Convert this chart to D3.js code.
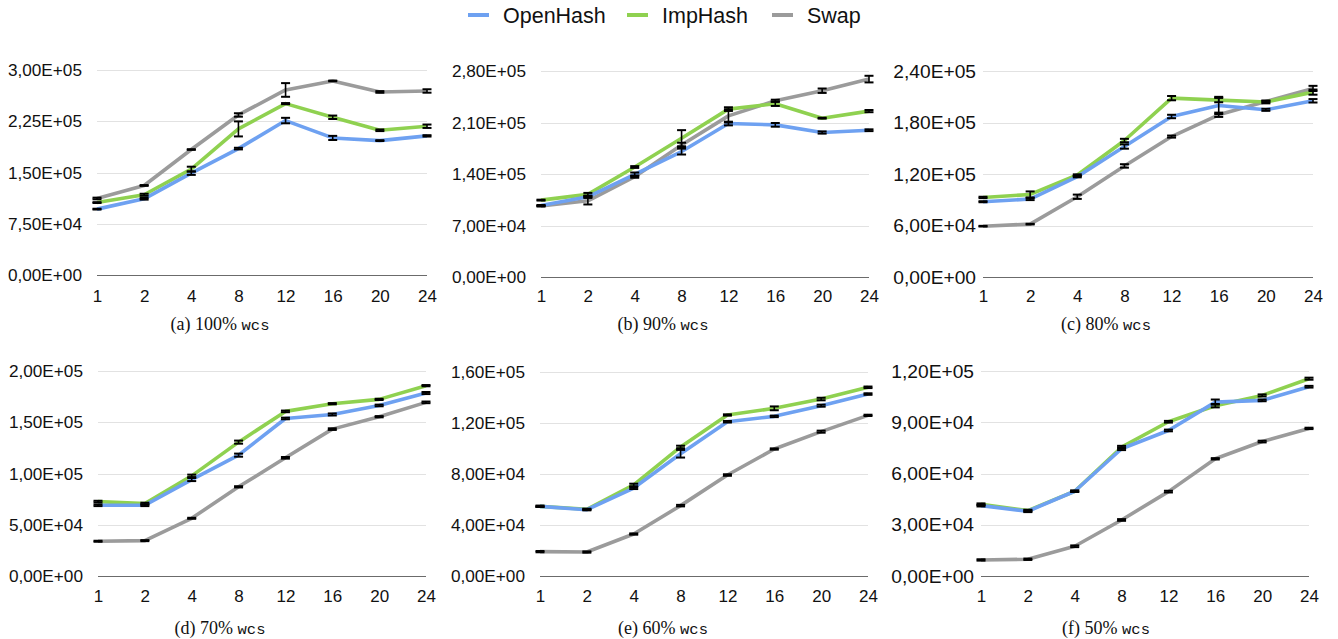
<!DOCTYPE html>
<html><head><meta charset="utf-8">
<script src="https://cdn.jsdelivr.net/npm/d3@7"></script>
<style>body{margin:0;background:#fff}svg{display:block}</style>
</head><body>
<script>
// ---------- DATA ----------
const threads = ["1","2","4","8","12","16","20","24"];
const seriesNames = ["OpenHash","ImpHash","Swap"];
const captions = ["(a) 100%","(b) 90%","(c) 80%","(d) 70%","(e) 60%","(f) 50%"];
const captionSuffix = "wcs";

const yTicksA = [0,75000,150000,225000,300000];
const yTicksB = [0,70000,140000,210000,280000];
const yTicksC = [0,60000,120000,180000,240000];
const yTicksD = [0,50000,100000,150000,200000];
const yTicksE = [0,40000,80000,120000,160000];
const yTicksF = [0,30000,60000,90000,120000];

// panel (a) 100% wcs
const openA = [96400,111500,149000,185000,226000,200600,196700,203600];
const impA  = [106000,117400,155000,213800,250800,230800,211800,217700];
const swapA = [112000,131000,183600,234200,270800,284000,267900,269300];
const openAErr = [600,1200,2500,1200,4000,3000,600,1000];
const impAErr  = [600,1500,3500,11000,800,2500,1200,2500];
const swapAErr = [1200,600,500,2500,10000,500,1200,2500];
// panel (b) 90% wcs
const openB = [97300,109000,139500,170500,208600,206800,196400,199500];
const impB  = [104500,112300,149500,188600,228200,235500,215900,225500];
const swapB = [96400,103600,136400,179500,219000,239500,253200,269000];
const openBErr = [600,1500,2500,4000,2500,2500,1500,1200];
const impBErr  = [600,2000,1200,11000,2500,3000,600,1500];
const swapBErr = [600,5000,1500,3000,9000,1500,3000,4500];
// panel (c) 80% wcs
const openC = [87700,90800,116900,152000,187000,199900,194800,205300];
const impC  = [92700,96200,118800,159000,208400,206100,203800,215400];
const swapC = [59200,61600,93500,129400,163600,189000,204500,219700];
const openCErr = [600,1200,800,2500,2000,10000,1200,2000];
const impCErr  = [800,3500,800,2000,2500,2500,1500,3000];
const swapCErr = [400,400,2500,2000,1200,2500,1000,3000];
// panel (d) 70% wcs
const openD = [69000,69000,94100,117900,153700,157600,166400,178500];
const impD  = [72600,70700,97700,130600,160600,168100,172300,185700];
const swapD = [33900,34500,56300,87000,115300,143300,155400,169400];
const openDErr = [800,800,1500,1500,800,1000,800,1000];
const impDErr  = [800,800,1200,1500,800,600,600,600];
const swapDErr = [500,500,500,600,800,800,600,800];
// panel (e) 60% wcs
const openE = [54600,52000,69000,95900,121000,125200,133600,142700];
const impE  = [54600,52300,71400,101200,126300,131500,138800,148000];
const swapE = [19100,18800,32900,55200,79200,99600,113200,126000];
const openEErr = [500,500,800,3000,600,600,800,600];
const impEErr  = [500,500,1000,1000,500,1500,1000,600];
const swapEErr = [500,500,500,600,600,500,800,500];
// panel (f) 50% wcs
const openF = [41200,37900,49600,74500,85200,101800,102800,110800];
const impF  = [42000,38300,49600,75400,90300,99700,105700,115500];
const swapF = [9400,9800,17400,32800,49400,68600,78700,86400];
const openFErr = [500,500,400,800,500,1500,500,500];
const impFErr  = [500,500,400,800,500,1000,600,600];
const swapFErr = [400,400,500,500,500,400,500,400];

// ---------- LAYOUT / STYLE ----------
const colors = {OpenHash:"#6ea1f1", ImpHash:"#8fd150", Swap:"#9b9b9b"};
const panels = [
  {x0:97, x1:427, yb:275, yt:70,  cx:220, capY:330, xlY:302, ticks:yTicksA, vals:[openA,impA,swapA], errs:[openAErr,impAErr,swapAErr], yfs:17.2, gap:15},
  {x0:541,x1:869, yb:277, yt:71,  cx:663, capY:330, xlY:302, ticks:yTicksB, vals:[openB,impB,swapB], errs:[openBErr,impBErr,swapBErr], yfs:17.2, gap:15},
  {x0:983,x1:1313,yb:277, yt:71,  cx:1106,capY:330, xlY:302, ticks:yTicksC, vals:[openC,impC,swapC], errs:[openCErr,impCErr,swapCErr], yfs:19.2, gap:7},
  {x0:98, x1:426, yb:576, yt:371, cx:220, capY:634, xlY:602, ticks:yTicksD, vals:[openD,impD,swapD], errs:[openDErr,impDErr,swapDErr], yfs:17.2, gap:15},
  {x0:540,x1:868, yb:576, yt:372, cx:663, capY:634, xlY:602, ticks:yTicksE, vals:[openE,impE,swapE], errs:[openEErr,impEErr,swapEErr], yfs:17.2, gap:15},
  {x0:981,x1:1309,yb:576, yt:371, cx:1106,capY:634, xlY:602, ticks:yTicksF, vals:[openF,impF,swapF], errs:[openFErr,impFErr,swapFErr], yfs:19.2, gap:7}
];
const sansFont = "'Liberation Sans', Arial, Helvetica, sans-serif";

const W = 1338, H = 639;
const svg = d3.select("body").append("svg").attr("width",W).attr("height",H);

const fmt = v => {
  if (v === 0) return "0,00E+00";
  const e = Math.floor(Math.log10(v));
  const m = (v/Math.pow(10,e)).toFixed(2).replace(".",",");
  return m + "E+" + String(e).padStart(2,"0");
};

panels.forEach((p,i) => {
  const g = svg.append("g");
  const x = d3.scalePoint().domain(threads).range([p.x0,p.x1]).padding(0);
  const y = d3.scaleLinear().domain([0, d3.max(p.ticks)]).range([p.yb,p.yt]);

  // gridlines + y labels
  const yAxis = d3.axisLeft(y).tickValues(p.ticks).tickSize(-(p.x1-p.x0)).tickFormat(fmt);
  const ya = g.append("g").attr("transform",`translate(${p.x0},0)`).call(yAxis);
  ya.attr("font-size", null).attr("font-family", null);
  ya.select(".domain").remove();
  ya.selectAll(".tick line").attr("stroke", d => d===0 ? "#6b6b6b" : "#e2e2e2").attr("stroke-width",1)
    .attr("shape-rendering","crispEdges");
  ya.selectAll(".tick text").style("font-family",sansFont).style("font-size",p.yfs+"px").attr("fill","#111")
    .attr("x", -p.gap);

  // x labels
  const xAxis = d3.axisBottom(x).tickSize(0).tickPadding(0);
  const xa = g.append("g").attr("transform",`translate(0,${p.xlY})`).call(xAxis);
  xa.attr("font-size", null).attr("font-family", null);
  xa.select(".domain").remove();
  xa.selectAll(".tick text").style("font-family",sansFont).style("font-size","17px").attr("fill","#111")
    .attr("dy",0).attr("y",0);

  // lines, drawn Swap -> ImpHash -> OpenHash
  const line = d3.line().x((d,j)=>x(threads[j])).y(d=>y(d));
  [2,1,0].forEach(s => {
    g.append("path").datum(p.vals[s]).attr("d",line).attr("fill","none")
      .attr("stroke",colors[seriesNames[s]]).attr("stroke-width",3.6).attr("stroke-linejoin","round");
  });
  // error bars
  [2,1,0].forEach(s => {
    p.vals[s].forEach((v,j) => {
      const e = p.errs[s][j], cx = x(threads[j]);
      const yt = y(v+e), yb = y(v-e);
      g.append("line").attr("x1",cx).attr("x2",cx).attr("y1",yt).attr("y2",yb).attr("stroke","#000").attr("stroke-width",1.6);
      [yt,yb].forEach(yy => g.append("line").attr("x1",cx-4.5).attr("x2",cx+4.5).attr("y1",yy).attr("y2",yy)
        .attr("stroke","#000").attr("stroke-width",2));
    });
  });

  // caption
  const t = g.append("text").attr("x",p.cx).attr("y",p.capY).attr("text-anchor","middle")
    .attr("font-family","'Liberation Serif','Times New Roman',serif").attr("font-size",18).attr("fill","#111");
  t.append("tspan").text(captions[i] + " ");
  t.append("tspan").attr("font-family","'Liberation Mono','Courier New',monospace").attr("font-size",15.5).text(captionSuffix);
});

// legend
const legX = [468, 627, 772];
seriesNames.forEach((n,k) => {
  svg.append("line").attr("x1",legX[k]).attr("x2",legX[k]+21).attr("y1",15).attr("y2",15)
    .attr("stroke",colors[n]).attr("stroke-width",4);
  svg.append("text").attr("x",legX[k]+35).attr("y",23).attr("font-family",sansFont).attr("font-size",21.5)
    .attr("fill","#111").text(n);
});
</script>
</body></html>
